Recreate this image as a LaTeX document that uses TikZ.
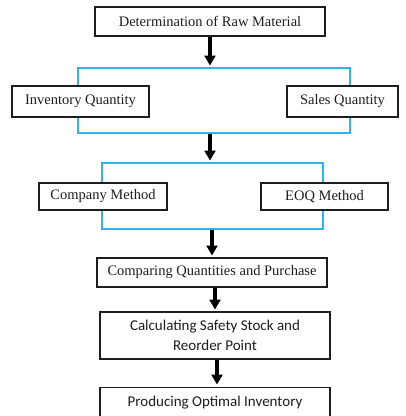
\documentclass[tikz,border=0pt]{standalone}
\usepackage{fontspec}
\setmainfont{Liberation Serif}
\newfontfamily\calfont{Carlito}
\usetikzlibrary{arrows.meta}
\definecolor{grpblue}{HTML}{2FB3E8}
\definecolor{txt}{HTML}{1E1E1E}
\tikzset{
  x=1pt,y=-1pt,
  box/.style={draw=txt, line width=1.1pt, fill=white, inner sep=0pt, align=center, text=txt,
    font=\fontsize{14.5}{17}\selectfont},
  calbox/.style={box, font=\calfont\fontsize{15}{20}\selectfont},
  grp/.style={draw=grpblue, line width=1.1pt, inner sep=0pt},
  flow/.style={line width=3.6pt, draw=black, -{Triangle[length=10pt,width=11pt]}, shorten >=2.5pt},
}
\begin{document}
\begin{tikzpicture}
\useasboundingbox (0,0) rectangle (406,416);
\clip (0,0) rectangle (406,416);
% group frames
\node[grp, minimum width=272pt, minimum height=65pt] (g1) at (214,100.5) {};
\node[grp, minimum width=221pt, minimum height=66pt] (g2) at (212.5,196) {};
% boxes
\node[box, minimum width=230pt, minimum height=29pt] (raw) at (210,21.5) {Determination of Raw Material};
\node[box, minimum width=137pt, minimum height=31pt] (inv) at (80.5,101.5) {Inventory Quantity};
\node[box, minimum width=111pt, minimum height=31pt] (sales) at (342.5,101.5) {Sales Quantity};
\node[box, minimum width=128pt, minimum height=27pt] (comp) at (103,196.5) {Company Method};
\node[box, minimum width=127pt, minimum height=27pt] (eoq) at (324.5,196.5) {EOQ Method};
\node[box, minimum width=230pt, minimum height=29pt] (cmp) at (212,272.5) {Comparing Quantities and Purchase};
\node[calbox, minimum width=230pt, minimum height=47pt] (calc) at (215,335.5) {Calculating Safety Stock and\\Reorder Point};
\node[calbox, minimum width=230pt, minimum height=44pt, anchor=north] (prod) at (215,387) {};
\node[font=\calfont\fontsize{15}{20}\selectfont, text=txt, anchor=base] (prodt) at (215,406) {Producing Optimal Inventory};
% arrows
\coordinate (a1s) at (210,36.5);  \coordinate (a1e) at (210,68);
\coordinate (a2s) at (210,133.5); \coordinate (a2e) at (210,163);
\coordinate (a3s) at (212,229.5); \coordinate (a3e) at (212,258);
\coordinate (a4s) at (215,287.5); \coordinate (a4e) at (215,312);
\coordinate (a5s) at (217,359.5); \coordinate (a5e) at (217,387);
\draw[flow] (a1s) -- (a1e);
\draw[flow] (a2s) -- (a2e);
\draw[flow] (a3s) -- (a3e);
\draw[flow] (a4s) -- (a4e);
\draw[flow] (a5s) -- (a5e);
\end{tikzpicture}
\end{document}
